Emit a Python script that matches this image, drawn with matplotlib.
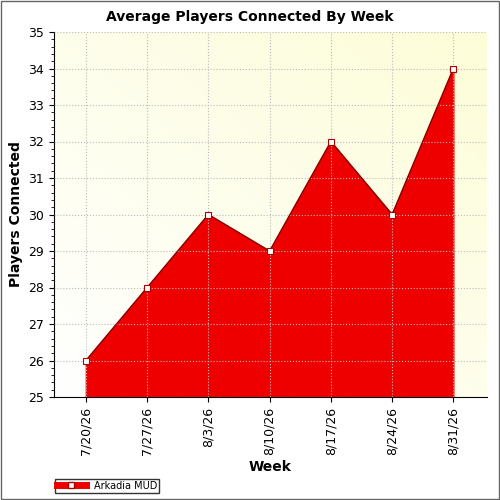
import numpy as np
import matplotlib.pyplot as plt
from matplotlib.colors import LinearSegmentedColormap
from matplotlib.ticker import MultipleLocator

weeks = ['7/20/26', '7/27/26', '8/3/26', '8/10/26', '8/17/26', '8/24/26', '8/31/26']
players = [26, 28, 30, 29, 32, 30, 34]

fig = plt.figure(figsize=(5, 5), dpi=100)
ax = fig.add_axes([54/500, 103/500, 433/500, 365/500])
x = np.arange(len(weeks))

# gradient background
gx, gy = np.meshgrid(np.linspace(0, 1, 100), np.linspace(0, 1, 100))
g = (gx + gy) / 2
cmap = LinearSegmentedColormap.from_list('bg', ['#ffffff', '#fdfdd8'])
ax.imshow(g, extent=[-0.52, 6.55, 25, 35], origin='lower', cmap=cmap, aspect='auto', zorder=0)

ax.fill_between(x, 25, players, color='#ee0000', zorder=2)
ax.plot(x, players, color='#880000', lw=1, zorder=3)
ax.plot(x, players, 's', ms=5, mfc='white', mec='#aa0000', mew=0.8, zorder=4)

ax.set_xlim(-0.52, 6.55)
ax.set_ylim(25, 35)
ax.set_xticks(x)
ax.set_xticklabels(weeks, rotation=90, fontsize=9)
ax.yaxis.set_major_locator(MultipleLocator(1))
ax.yaxis.set_minor_locator(MultipleLocator(0.2))
ax.tick_params(axis='y', labelsize=9)
ax.grid(True, color='#bbbbbb', linestyle=':', lw=0.8, zorder=1)
ax.set_axisbelow(False)
for s in ['top', 'right']:
    ax.spines[s].set_visible(False)
ax.set_xlabel('Week', fontsize=10, fontweight='bold')
ax.set_ylabel('Players Connected', fontsize=10, fontweight='bold')
fig.text(0.5, 0.965, 'Average Players Connected By Week', ha='center', va='center',
         fontsize=10, fontweight='bold')

# legend
from matplotlib.lines import Line2D
h = Line2D([], [], color='#ee0000', lw=5, marker='s', ms=4, mfc='white', mec='#aa0000')
leg = fig.legend([h], ['Arkadia MUD'], loc='lower left', bbox_to_anchor=(0.1, 0.005),
                 fontsize=7, frameon=True, fancybox=False, borderpad=0.2, handlelength=3)
leg.get_frame().set_edgecolor('black')

fig.patches.append(plt.Rectangle((0.002, 0.002), 0.996, 0.996, transform=fig.transFigure,
                                 fill=False, edgecolor='#666666', lw=1))
fig.savefig('out.png', dpi=100)
